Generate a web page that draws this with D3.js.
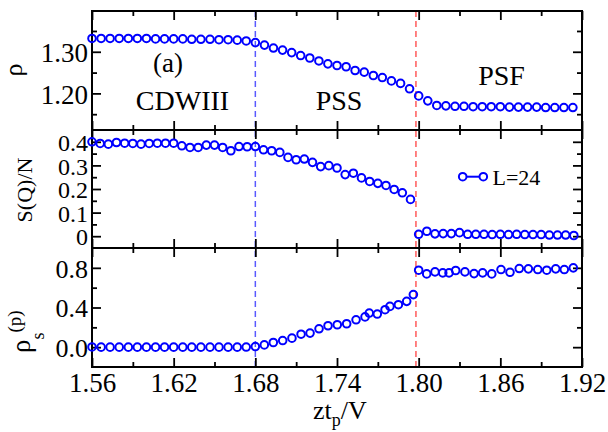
<!DOCTYPE html>
<html>
<head>
<meta charset="utf-8">
<script src="https://cdn.jsdelivr.net/npm/d3@7"></script>
</head>
<body style="margin:0">
<svg id="fig" width="608" height="432"></svg>
<script>
// ---------- data ----------
const xTicksMajor = [1.56, 1.62, 1.68, 1.74, 1.80, 1.86, 1.92];
const xTicksMinor = [1.59, 1.65, 1.71, 1.77, 1.83, 1.89];
const xTickLabels = ["1.56", "1.62", "1.68", "1.74", "1.80", "1.86", "1.92"];

const rhoX = [1.5600,1.5667,1.5733,1.5800,1.5867,1.5933,1.6000,1.6067,1.6133,1.6200,1.6267,1.6333,1.6400,1.6467,1.6533,1.6600,1.6667,1.6733,1.6800,
  1.6867,1.6933,1.7000,1.7067,1.7133,1.7200,1.7267,1.7333,1.7400,1.7467,1.7533,1.7600,1.7667,1.7733,1.7800,1.7867,1.7933,
  1.8000,1.8067,1.8133,1.8200,1.8267,1.8333,1.8400,1.8467,1.8533,1.8600,1.8667,1.8733,1.8800,1.8867,1.8933,1.9000,1.9067,1.9133];
const rhoY = [1.332,1.332,1.332,1.332,1.332,1.332,1.332,1.331,1.331,1.331,1.331,1.330,1.330,1.330,1.329,1.329,1.328,1.326,1.322,
  1.316,1.309,1.304,1.298,1.291,1.285,1.278,1.271,1.267,1.264,1.255,1.251,1.243,1.238,1.230,1.224,1.211,
  1.194,1.182,1.171,1.170,1.169,1.169,1.168,1.168,1.168,1.168,1.167,1.167,1.167,1.167,1.166,1.166,1.166,1.166];

const sqX = [1.560,1.566,1.572,1.578,1.584,1.590,1.596,1.602,1.608,1.614,1.620,1.626,1.632,1.638,1.644,1.650,1.656,1.662,1.668,1.674,1.680,
  1.686,1.692,1.698,1.704,1.710,1.716,1.722,1.728,1.734,1.740,1.746,1.752,1.758,1.764,1.770,1.776,1.782,1.788,1.794,
  1.800,1.806,1.812,1.818,1.824,1.830,1.836,1.842,1.848,1.854,1.860,1.866,1.872,1.878,1.884,1.890,1.896,1.902,1.908,1.914];
const sqY = [0.400,0.393,0.390,0.397,0.394,0.393,0.390,0.393,0.394,0.394,0.394,0.383,0.376,0.376,0.386,0.386,0.376,0.362,0.380,0.379,0.380,
  0.366,0.362,0.355,0.334,0.324,0.327,0.313,0.295,0.299,0.289,0.261,0.267,0.247,0.232,0.224,0.215,0.198,0.184,0.156,
  0.008,0.021,0.010,0.011,0.011,0.015,0.008,0.008,0.008,0.007,0.008,0.007,0.008,0.007,0.007,0.007,0.005,0.005,0.005,0.003];

const rsX = [1.5600,1.5667,1.5733,1.5800,1.5867,1.5933,1.6000,1.6067,1.6133,1.6200,1.6267,1.6333,1.6400,1.6467,1.6533,1.6600,1.6667,1.6733,1.6800,
  1.6866,1.6932,1.7001,1.7069,1.7136,1.7202,1.7268,1.7334,1.7402,1.7471,1.7540,1.7606,1.7637,1.7696,1.7753,1.7789,1.7851,1.7912,1.7961,
  1.8000,1.8059,1.8120,1.8177,1.8223,1.8272,1.8340,1.8407,1.8470,1.8537,1.8605,1.8671,1.8739,1.8806,1.8875,1.8941,1.9007,1.9070,1.9136];
const rsY = [0.002,0.000,0.000,0.000,0.000,0.000,0.000,0.000,0.000,0.000,0.000,0.000,0.000,0.000,0.000,0.000,0.000,0.001,0.006,
  0.023,0.047,0.067,0.091,0.131,0.142,0.185,0.216,0.226,0.236,0.276,0.305,0.344,0.334,0.378,0.411,0.428,0.462,0.530,
  0.776,0.739,0.759,0.749,0.749,0.773,0.759,0.742,0.749,0.739,0.783,0.755,0.793,0.790,0.783,0.776,0.790,0.783,0.800];

const rhoTicksMajor = [1.20, 1.30];
const rhoTicksMinor = [1.15, 1.25, 1.35];
const rhoTickLabels = ["1.20", "1.30"];
const sqTicksMajor = [0, 0.1, 0.2, 0.3, 0.4];
const sqTicksMinor = [0.05, 0.15, 0.25, 0.35];
const sqTickLabels = ["0", "0.1", "0.2", "0.3", "0.4"];
const rsTicksMajor = [0.0, 0.4, 0.8];
const rsTicksMinor = [0.2, 0.6];
const rsTickLabels = ["0.0", "0.4", "0.8"];

const boundaries = [1.68, 1.798];
const phaseLabels = ["CDWIII", "PSS", "PSF"];
const legendLabel = "L=24";

// ---------- layout ----------
const FONT = '"Liberation Serif"';
const svg = d3.select("#fig");
const L = 92, R = 582;
const x = d3.scaleLinear().domain([1.56, 1.92]).range([L, R]);
const panels = [
  {top: 11, bottom: 130, domain: [1.112, 1.398], major: rhoTicksMajor, minor: rhoTicksMinor, labels: rhoTickLabels, xs: rhoX, ys: rhoY, fs: 27},
  {top: 130, bottom: 248, domain: [-0.05, 0.45], major: sqTicksMajor, minor: sqTicksMinor, labels: sqTickLabels, xs: sqX, ys: sqY, fs: 24},
  {top: 248, bottom: 367, domain: [-0.2, 1.0], major: rsTicksMajor, minor: rsTicksMinor, labels: rsTickLabels, xs: rsX, ys: rsY, fs: 26}
];
const BLUE = "#0000ff";

svg.append("line").attr("x1", x(boundaries[0])).attr("x2", x(boundaries[0]))
  .attr("y1", 11).attr("y2", 367).attr("stroke", "#5a5aff").attr("stroke-width", 1.5).attr("stroke-dasharray", "6,4");
svg.append("line").attr("x1", x(boundaries[1])).attr("x2", x(boundaries[1]))
  .attr("y1", 11).attr("y2", 367).attr("stroke", "#ff5a5a").attr("stroke-width", 1.5).attr("stroke-dasharray", "6,4");

panels.forEach((p, i) => {
  const y = d3.scaleLinear().domain(p.domain).range([p.bottom, p.top]);
  const g = svg.append("g");
  const la = g.append("g").attr("transform", `translate(${L},0)`)
    .call(d3.axisLeft(y).tickValues(p.major).tickSize(-9).tickPadding(4)
      .tickFormat((d, k) => p.labels[k]));
  la.selectAll("text").attr("font-size", p.fs).attr("fill", "#000").attr("dy", "0.36em");
  g.append("g").attr("transform", `translate(${L},0)`).call(d3.axisLeft(y).tickValues(p.minor).tickSize(-5).tickFormat(""));
  g.append("g").attr("transform", `translate(${R},0)`).call(d3.axisRight(y).tickValues(p.major).tickSize(-9).tickFormat(""));
  g.append("g").attr("transform", `translate(${R},0)`).call(d3.axisRight(y).tickValues(p.minor).tickSize(-5).tickFormat(""));
  const xb = g.append("g").attr("transform", `translate(0,${p.bottom})`)
    .call(d3.axisBottom(x).tickValues(xTicksMajor).tickSize(-9).tickPadding(6)
      .tickFormat(i === 2 ? ((d, k) => xTickLabels[k]) : ""));
  xb.selectAll("text").attr("font-size", 27).attr("fill", "#000");
  g.append("g").attr("transform", `translate(0,${p.bottom})`).call(d3.axisBottom(x).tickValues(xTicksMinor).tickSize(-5).tickFormat(""));
  g.append("g").attr("transform", `translate(0,${p.top})`).call(d3.axisTop(x).tickValues(xTicksMajor).tickSize(-9).tickFormat(""));
  g.append("g").attr("transform", `translate(0,${p.top})`).call(d3.axisTop(x).tickValues(xTicksMinor).tickSize(-5).tickFormat(""));
  g.selectAll(".domain").remove();
  g.selectAll(".tick line").attr("stroke", "#000").attr("stroke-width", 1.8);
  g.append("rect").attr("x", L).attr("y", p.top).attr("width", R - L).attr("height", p.bottom - p.top)
    .attr("fill", "none").attr("stroke", "#000").attr("stroke-width", 2);
  svg.append("g").selectAll("circle").data(p.xs.map((v, k) => [v, p.ys[k]])).join("circle")
    .attr("cx", d => x(d[0])).attr("cy", d => y(d[1])).attr("r", 3.8)
    .attr("fill", "none").attr("stroke", BLUE).attr("stroke-width", 2);
});

// annotations
svg.append("text").attr("x", 168).attr("y", 72).attr("text-anchor", "middle").attr("font-size", 27).text("(a)");
svg.append("text").attr("x", 182.5).attr("y", 110).attr("text-anchor", "middle").attr("font-size", 28).text(phaseLabels[0]);
svg.append("text").attr("x", 339).attr("y", 110).attr("text-anchor", "middle").attr("font-size", 28).text(phaseLabels[1]);
svg.append("text").attr("x", 501.5).attr("y", 85).attr("text-anchor", "middle").attr("font-size", 28).text(phaseLabels[2]);

// legend
svg.append("line").attr("x1", 462.7).attr("x2", 483.3).attr("y1", 176.7).attr("y2", 176.7).attr("stroke", BLUE).attr("stroke-width", 2);
svg.append("g").selectAll("circle").data([462.7, 483.3]).join("circle").attr("cx", d => d).attr("cy", 176.7).attr("r", 3.8)
  .attr("fill", "#fff").attr("stroke", BLUE).attr("stroke-width", 2);
svg.append("text").attr("x", 492.5).attr("y", 184.5).attr("font-size", 22).text(legendLabel);

// axis titles
const xl = svg.append("text").attr("x", 313).attr("y", 419).attr("text-anchor", "start").attr("font-size", 26);
xl.append("tspan").text("zt");
xl.append("tspan").attr("font-size", 18).attr("dy", 7).text("p");
xl.append("tspan").attr("dy", -7).text("/V");

svg.append("text").attr("transform", "translate(22,70) rotate(-90)").attr("text-anchor", "middle")
  .attr("font-size", 26).text("ρ");
svg.append("text").attr("transform", "translate(32,190) rotate(-90)").attr("text-anchor", "middle")
  .attr("font-size", 22).text("S(Q)/N");
const rl = svg.append("text").attr("transform", "translate(30,353) rotate(-90)").attr("text-anchor", "start")
  .attr("font-size", 27);
rl.append("tspan").text("ρ");
rl.append("tspan").attr("font-size", 18).attr("dy", 14).text("s");
rl.append("tspan").attr("font-size", 19).attr("dy", -23).text("(p)");

svg.selectAll("text").style("font-family", FONT, "important");
</script>
</body>
</html>
